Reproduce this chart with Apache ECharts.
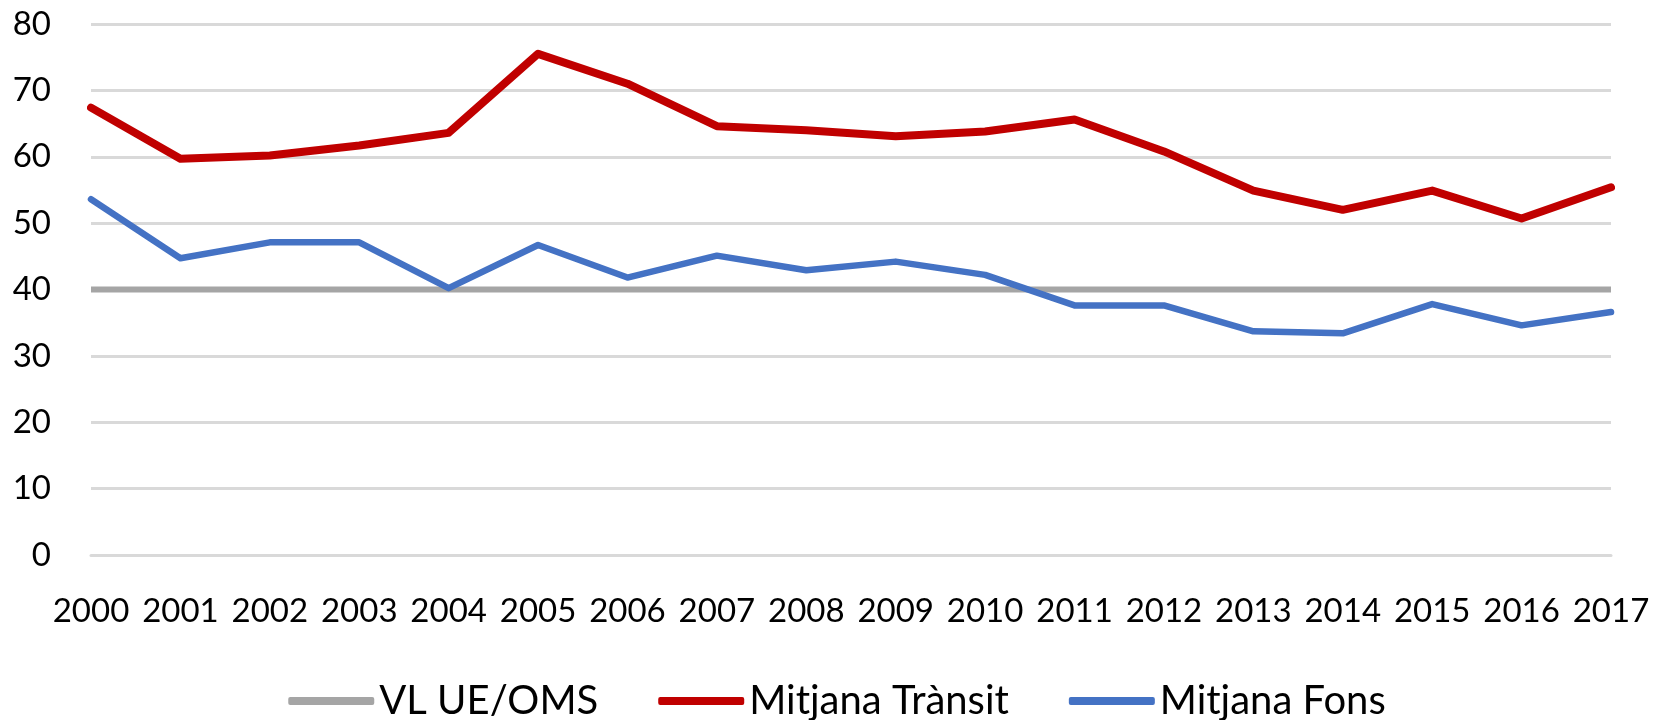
<!DOCTYPE html>
<html>
<head>
<meta charset="utf-8">
<script src="https://cdn.jsdelivr.net/npm/echarts@6/dist/echarts.min.js"></script>
<style>
  html, body { margin: 0; padding: 0; background: #fff; }
  #chart { width: 1674px; height: 720px; }
</style>
</head>
<body>
<div id="chart"></div>
<script>
const years = ['2000', '2001', '2002', '2003', '2004', '2005', '2006', '2007', '2008',
  '2009', '2010', '2011', '2012', '2013', '2014', '2015', '2016', '2017']
const limitUE = [40, 40, 40, 40, 40, 40, 40, 40, 40, 40, 40, 40, 40, 40, 40, 40, 40, 40]
const mitjanaTransit = [67.4, 59.7, 60.2, 61.7, 63.6, 75.5, 71.0, 64.6, 64.0,
  63.1, 63.8, 65.6, 60.8, 54.9, 52.0, 54.9, 50.7, 55.4]
const mitjanaFons = [53.6, 44.7, 47.1, 47.1, 40.2, 46.7, 41.8, 45.1, 42.9,
  44.2, 42.2, 37.6, 37.6, 33.7, 33.4, 37.8, 34.6, 36.6]

const font = 'Lato'
const chart = echarts.init(document.getElementById('chart'))
chart.setOption({
  animation: false,
  color: ['#A5A5A5', '#C00000', '#4472C4'],
  grid: { left: 91, right: 63, top: 24, bottom: 165 },
  legend: {
    data: ['VL UE/OMS', 'Mitjana Trànsit', 'Mitjana Fons'],
    top: 676,
    left: 'center',
    icon: 'roundRect',
    itemWidth: 86,
    itemHeight: 8,
    itemGap: 60,
    textStyle: { fontFamily: font, fontSize: 40, color: '#000' }
  },
  xAxis: {
    type: 'category',
    boundaryGap: false,
    data: years,
    axisLine: { lineStyle: { color: '#d9d9d9', width: 3 } },
    axisTick: { show: false },
    axisLabel: { fontFamily: font, fontSize: 33, color: '#000', margin: 40, interval: 0 }
  },
  yAxis: {
    type: 'value',
    min: 0,
    max: 80,
    interval: 10,
    axisLine: { show: false },
    axisTick: { show: false },
    axisLabel: { fontFamily: font, fontSize: 33, color: '#000', margin: 40 },
    splitLine: { lineStyle: { color: '#d9d9d9', width: 3 } }
  },
  series: [
    {
      name: 'VL UE/OMS',
      type: 'line',
      data: limitUE,
      showSymbol: false,
      lineStyle: { width: 6, color: '#A5A5A5' }
    },
    {
      name: 'Mitjana Trànsit',
      type: 'line',
      data: mitjanaTransit,
      showSymbol: false,
      lineStyle: { width: 8, color: '#C00000', join: 'round', cap: 'round' }
    },
    {
      name: 'Mitjana Fons',
      type: 'line',
      data: mitjanaFons,
      showSymbol: false,
      lineStyle: { width: 6.5, color: '#4472C4', join: 'round', cap: 'round' }
    }
  ]
})
</script>
</body>
</html>
